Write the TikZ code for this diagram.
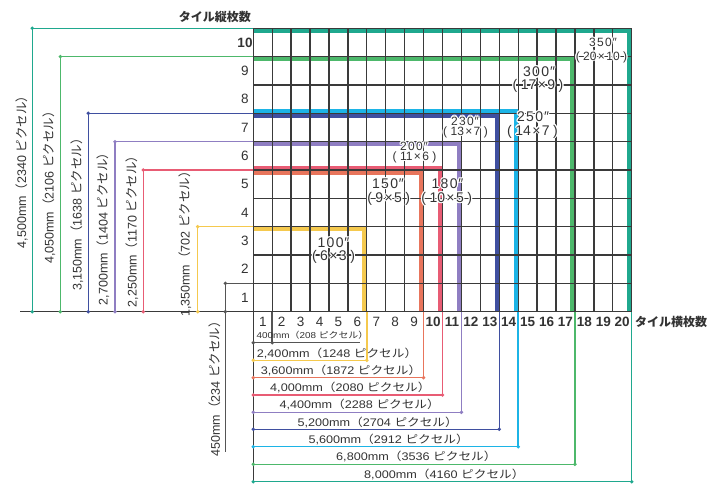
\documentclass[tikz,border=0pt]{standalone}
\usepackage{fontspec}
\setmainfont{Liberation Sans}
\newfontfamily\jp{Noto Sans CJK JP}
\newfontfamily\jpw[FakeStretch=1.15]{Noto Sans CJK JP}
\newfontfamily\lw[FakeStretch=1.15]{Liberation Sans}
\usetikzlibrary{calc}
\definecolor{cteal}{HTML}{1FA88E}
\definecolor{cgreen}{HTML}{4DB86B}
\definecolor{ccyan}{HTML}{1CB4E6}
\definecolor{cblue}{HTML}{3F4FA0}
\definecolor{cpurple}{HTML}{8F7EC2}
\definecolor{cpink}{HTML}{E85C74}
\definecolor{csalmon}{HTML}{E8755C}
\definecolor{cyellow}{HTML}{F5C94E}
\definecolor{cgrid}{HTML}{3A3A3A}
\definecolor{cdim}{HTML}{555555}
\definecolor{ctext}{HTML}{333333}
\newcommand\vtxt[2]{#1{\jp （}#2 {\jp ピクセル）}}
\newcommand\htxt[2]{{\lw #1}{\jpw （}{\lw #2 }{\jpw ピクセル）}}
\newcommand\hlo[3]{\rlap{\kern#1\raisebox{#2}{#3}}}
\newcommand\hl[1]{\mbox{\rlap{\color{white}\hlo{-1.2pt}{0pt}{#1}\hlo{1.2pt}{0pt}{#1}\hlo{0pt}{1.2pt}{#1}\hlo{0pt}{-1.2pt}{#1}\hlo{-.85pt}{.85pt}{#1}\hlo{.85pt}{.85pt}{#1}\hlo{-.85pt}{-.85pt}{#1}\hlo{.85pt}{-.85pt}{#1}}#1}}
\def\lk{\kern1.4pt}
\def\pk{\kern3.5pt}
\newcommand\inchlab[3]{\hl{#1\lk#2\lk#3\kern0.8pt″}}
\newcommand\cntlab[1]{\hl{(\pk#1\pk)}}
\tikzset{
  framepath/.style={line width=4.5pt},
  gridline/.style={line width=1.3pt, cgrid},
  dimline/.style={line width=1.5pt},
  dimdot/.style={circle, fill, inner sep=0pt, minimum size=3.8pt},
  num/.style={text=ctext, inner sep=0pt, font=\fontsize{13.5}{13.5}\selectfont},
  bnum/.style={num, font=\bfseries\fontsize{13.5}{13.5}\selectfont},
  vlab/.style={text=ctext, inner sep=0pt, rotate=90, font=\fontsize{12.5}{12.5}\selectfont},
  hlab/.style={text=ctext, inner sep=0pt, anchor=west, font=\fontsize{11}{11}\selectfont},
  flab/.style={text=ctext, inner sep=0pt, font=\fontsize{14}{14}\selectfont},
  fmid/.style={flab, font=\fontsize{12}{12}\selectfont},
  fsmall/.style={flab, font=\fontsize{12}{12}\selectfont},
  title/.style={text=ctext, inner sep=0pt, font=\jp\bfseries\fontsize{12}{12}\selectfont}
}
\begin{document}
\begin{tikzpicture}[x=1pt,y=-1pt]
\useasboundingbox (0,0) rectangle (709,484);
\fill[white] (0,0) rectangle (709,484);
% thick frames
\foreach \col/\m/\n/\o in {cyellow/6/3/1, csalmon/9/5/1, cpink/10/5/-1, cpurple/11/6/1, cblue/13/7/1, ccyan/14/7/-1, cgreen/17/9/1, cteal/20/10/1}
  \draw[framepath, \col, line join=miter] (253.3, {311.7-28.34*\n+2.25*\o}) -- ({253.3+18.92*\m-2.25}, {311.7-28.34*\n+2.25*\o}) -- ({253.3+18.92*\m-2.25}, 311.7);
% grid
\foreach \j in {0,...,10}
  \draw[gridline] (253.3,{311.7-28.34*\j}) -- ({253.3+18.92*20},{311.7-28.34*\j});
\foreach \i in {1,...,20}
  \draw[gridline] ({253.3+18.92*\i},{311.7-28.34*10}) -- ({253.3+18.92*\i},311.7);
\coordinate (gtop) at (253.3,{311.7-28.34*10});
\coordinate (gbot) at (253.3,481.7);
\coordinate (axl) at (20,311.7);
\coordinate (axo) at (253.3,311.7);
\draw[gridline] (gtop) -- (gbot);
\draw[gridline] (axl) -- (axo);
% left dimension lines
\foreach \col/\x/\n/\name in {cteal/32.3/10/a, cgreen/60.3/9/b, cblue/88.3/7/c, cpurple/115/6/d, cpink/143.3/5/e, cyellow/197.7/3/f}{
  \coordinate (L\name g) at (253.3,{311.7-28.34*\n});
  \coordinate (L\name t) at (\x,{311.7-28.34*\n});
  \coordinate (L\name b) at (\x,311.7);
  \draw[dimline, \col] (L\name g) -- (L\name t) -- (L\name b);
  \node[dimdot, \col] (L\name td) at (L\name t) {};
  \node[dimdot, \col] (L\name bd) at (L\name b) {};
}
\coordinate (Lgg) at (253.3,283.36);
\coordinate (Lgt) at (225.3,283.36);
\coordinate (Lgb) at (225.3,452);
\draw[dimline, cdim] (Lgg) -- (Lgt) -- (Lgb);
\node[dimdot, cdim] (Lgtd) at (Lgt) {};
\node[dimdot, cdim] (Lgad) at (225.3,311.7) {};
% bottom dimension lines
\coordinate (B0s) at (253.3,342.7);
\coordinate (B0e) at (272.2,342.7);
\coordinate (B0x) at (360,342.7);
\coordinate (B0a) at (272.2,311.7);
\draw[dimline, cdim] (B0s) -- (B0x);
\draw[dimline, cdim] (B0e) -- (B0a);
\node[dimdot, cdim] (B0sd) at (B0s) {};
\node[dimdot, cdim] (B0ed) at (B0e) {};
\foreach \col/\y/\m/\name in {cyellow/360.3/6/a, csalmon/377.7/9/b, cpink/395/10/c, cpurple/412.3/11/d, cblue/429.3/13/e, ccyan/446.7/14/f, cgreen/464.3/17/g, cteal/481.7/20/h}{
  \coordinate (B\name s) at (253.3,\y);
  \coordinate (B\name e) at ({253.3+18.92*\m},\y);
  \coordinate (B\name a) at ({253.3+18.92*\m},311.7);
  \draw[dimline, \col] (B\name s) -- (B\name e) -- (B\name a);
  \node[dimdot, \col] (B\name sd) at (B\name s) {};
  \node[dimdot, \col] (B\name ed) at (B\name e) {};
}
% row numbers
\foreach \j in {1,...,9}
  \node[num] (row\j) at (245,{311.7-28.34*(\j-0.5)}) {\j};
\node[bnum] (row10) at (245,{311.7-28.34*9.5}) {10};
% column numbers
\foreach \i in {1,...,9}
  \node[num] (col\i) at ({253.3+18.92*(\i-0.5)},322) {\i};
\foreach \i in {10,...,20}
  \node[bnum] (col\i) at ({253.3+18.92*(\i-0.5)},322) {\i};
% titles
\node[title, anchor=east] (ytitle) at (251,17) {タイル縦枚数};
\node[title, anchor=west] (xtitle) at (635,322) {タイル横枚数};
% left vertical labels
\node[vlab] (v4500) at (21.5,169) {\vtxt{4,500mm}{2340}};
\node[vlab] (v4050) at (49,184.5) {\vtxt{4,050mm}{2106}};
\node[vlab] (v3150) at (77,211.5) {\vtxt{3,150mm}{1638}};
\node[vlab] (v2700) at (103,226) {\vtxt{2,700mm}{1404}};
\node[vlab] (v2250) at (132,228.5) {\vtxt{2,250mm}{1170}};
\node[vlab] (v1350) at (185,241) {\vtxt{1,350mm}{702}};
\node[vlab] (v450) at (215,386) {\vtxt{450mm}{234}};
% bottom labels
\node[hlab, font=\fontsize{8.6}{8.6}\selectfont] (h400) at (256.5,335.5) {\htxt{400mm}{208}};
\node[hlab] (h2400) at (256.7,353) {\htxt{2,400mm}{1248}};
\node[hlab] (h3600) at (260.7,370.3) {\htxt{3,600mm}{1872}};
\node[hlab] (h4000) at (270,387.5) {\htxt{4,000mm}{2080}};
\node[hlab] (h4400) at (279.3,404.5) {\htxt{4,400mm}{2288}};
\node[hlab] (h5200) at (297.3,422) {\htxt{5,200mm}{2704}};
\node[hlab] (h5600) at (308.3,439.3) {\htxt{5,600mm}{2912}};
\node[hlab] (h6800) at (336,456.5) {\htxt{6,800mm}{3536}};
\node[hlab] (h8000) at (364,474) {\htxt{8,000mm}{4160}};
% frame labels
\node[flab] (f100a) at (333.5,242.5) {\inchlab100};
\node[flab] (f100b) at (333.5,257) {\cntlab{6\lk×\lk3}};
\node[flab] (f150a) at (388,183.5) {\inchlab150};
\node[flab] (f150b) at (388.7,199) {\cntlab{9\lk×\lk5}};
\node[flab] (f180a) at (447.5,183.5) {\inchlab180};
\node[flab] (f180b) at (446.7,199) {\cntlab{10\lk×\lk5}};
\node[fmid] (f200a) at (414,146.5) {\inchlab200};
\node[fmid] (f200b) at (414.5,157.5) {\cntlab{11\lk×\lk6}};
\node[fmid] (f230a) at (465,121) {\inchlab230};
\node[fmid] (f230b) at (465.5,132) {\cntlab{13\lk×\lk7}};
\node[flab] (f250a) at (533,117) {\inchlab250};
\node[flab] (f250b) at (532.5,131.5) {\cntlab{14\lk×\lk7}};
\node[flab] (f300a) at (539,72) {\inchlab300};
\node[flab] (f300b) at (538,86) {\cntlab{17\lk×\lk9}};
\node[fsmall] (f350a) at (603,42.5) {\inchlab350};
\node[fsmall] (f350b) at (601.5,57) {\cntlab{20\lk×\lk10}};
\end{tikzpicture}
\end{document}
